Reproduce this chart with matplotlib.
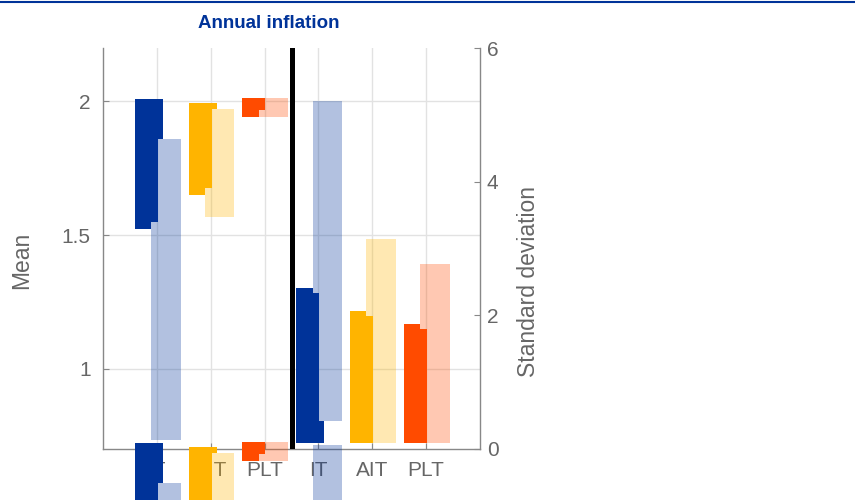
import numpy as np
import matplotlib
matplotlib.use('Agg')
import matplotlib.pyplot as plt
from matplotlib.transforms import ScaledTranslation
from matplotlib.lines import Line2D

plt.rcParams['font.family'] = ['Liberation Sans', 'DejaVu Sans']

categories = ['IT', 'AIT', 'PLT', 'IT', 'AIT', 'PLT']
colors = ['#003399', '#ffb400', '#ff4b00']

# left block: mean (left axis), ranges of the dark and light bars
mean_dark_lo = [1.523, 1.650, 1.943]
mean_dark_hi = [2.009, 1.996, 2.012]
mean_light_lo = [0.734, 1.569, 1.943]
mean_light_hi = [1.860, 1.971, 2.012]

# right block: standard deviation (right axis)
sd_dark_lo = [0.09, 0.09, 0.09]
sd_dark_hi = [2.414, 2.065, 1.870]
sd_light_lo = [0.419, 0.09, 0.09]
sd_light_hi = [5.207, 3.142, 2.773]

# bar geometry relative to the category centre
D0, D1 = -0.41, 0.11   # dark bar
L0, L1 = -0.11, 0.44   # light bar
N1 = 0.015             # dark part drawn over the light bar
EPS = 0.004


def draw_bars(axis, xpos, d_lo, d_hi, l_lo, l_hi, trim_lo, trim_hi, **kw):
    d_lo, d_hi, l_lo, l_hi = map(np.asarray, (d_lo, d_hi, l_lo, l_hi))
    opts = dict(align='edge', linewidth=0, **kw)
    # light bar
    axis.bar(xpos + L0, l_hi - l_lo, L1 - L0, l_lo, color=colors, alpha=0.3, **opts)
    # dark bar, in pieces so the light bar stays on top where it should
    axis.bar(xpos + D0, d_hi - d_lo, L0 - D0, d_lo, color=colors, **opts)
    top = np.maximum(d_lo, l_hi)
    axis.bar(xpos + L0 - EPS, np.clip(d_hi - top, 0, None), D1 - L0 + EPS, top,
             color=colors, **opts)
    bot = np.minimum(d_hi, l_lo)
    axis.bar(xpos + L0 - EPS, np.clip(bot - d_lo, 0, None), D1 - L0 + EPS, d_lo,
             color=colors, **opts)
    axis.bar(xpos + L0 - EPS, (d_hi - trim_hi) - (d_lo + trim_lo), N1 - L0 + EPS,
             d_lo + trim_lo, color=colors, **opts)


fig = plt.figure(figsize=(8.55, 5.0), dpi=100)
ax = fig.add_axes([103 / 855, 51 / 500, 377 / 855, 401 / 500])
ax2 = ax.twinx()

x_left = np.arange(1, 4)
x_right = np.arange(4, 7)
shift = ScaledTranslation(0, -3.44, fig.dpi_scale_trans)

draw_bars(ax, x_left, mean_dark_lo, mean_dark_hi, mean_light_lo, mean_light_hi,
          0.026, 0.0, zorder=1)
draw_bars(ax, x_left, mean_dark_lo, mean_dark_hi, mean_light_lo, mean_light_hi,
          0.026, 0.0, zorder=3, clip_on=False, transform=ax.transData + shift)
draw_bars(ax2, x_right, sd_dark_lo, sd_dark_hi, sd_light_lo, sd_light_hi,
          0.0, 0.08, zorder=1)
draw_bars(ax2, x_right, sd_dark_lo, sd_dark_hi, sd_light_lo, sd_light_hi,
          0.0, 0.08, zorder=3, clip_on=False, transform=ax2.transData + shift)

ax2.axvline(3.5, color='black', lw=3.6, zorder=5)

ax.set_xlim(0, 7)
ax.set_ylim(0.7, 2.2)
ax2.set_ylim(0, 6)

ax.set_xticks(range(1, 7), categories)
ax.set_yticks([1, 1.5, 2], ['1', '1.5', '2'])
ax2.set_yticks([0, 2, 4, 6])

ax.set_axisbelow(True)
ax.grid(True, color='#e2e2e2', lw=1)
ax2.grid(False)

ax.tick_params(axis='both', direction='in', length=4, color='#888888',
               labelcolor='#666666', labelsize=15, pad=9)
ax2.tick_params(axis='y', direction='in', length=4, color='#888888',
                labelcolor='#666666', labelsize=15, pad=5)

for s in ['top', 'right']:
    ax.spines[s].set_visible(False)
for s in ['top', 'left', 'bottom']:
    ax2.spines[s].set_visible(False)
for sp in [ax.spines['left'], ax.spines['bottom'], ax2.spines['right']]:
    sp.set_color('#888888')
    sp.set_linewidth(1)

fig.add_artist(Line2D([0, 1], [0.997, 0.997], transform=fig.transFigure,
                      color='#003399', lw=1.5))
fig.text(268.5 / 855, 1 - 23 / 500, 'Annual inflation', ha='center', va='center',
         fontsize=13.5, fontweight='bold', color='#003399')
fig.text(22 / 855, 1 - 260 / 500, 'Mean', rotation=90, ha='center', va='center',
         fontsize=16.5, color='#666666')
fig.text(528 / 855, 1 - 281.5 / 500, 'Standard deviation', rotation=90,
         ha='center', va='center', fontsize=16.5, color='#666666')

fig.savefig('out.png', dpi=100)
